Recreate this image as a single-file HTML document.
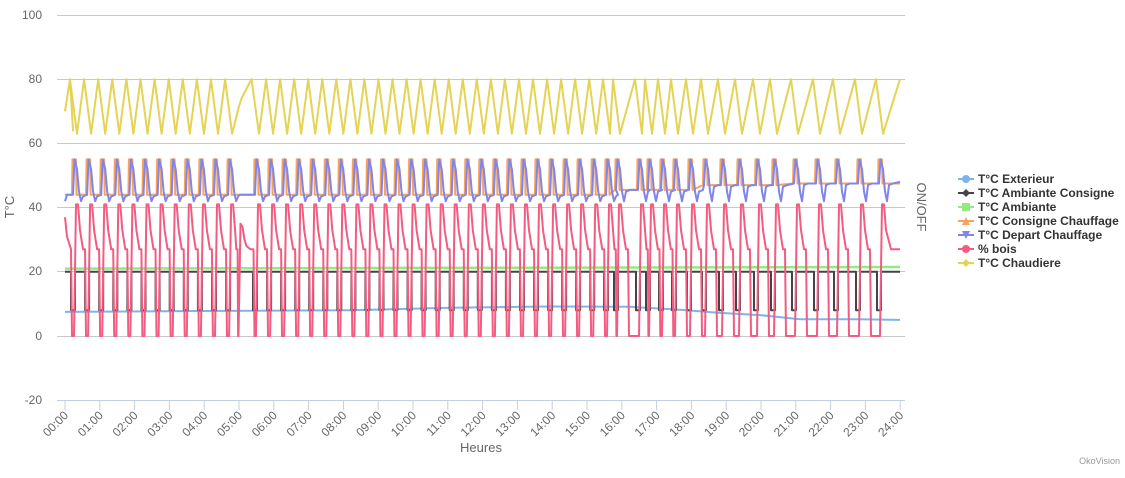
<!DOCTYPE html>
<html><head><meta charset="utf-8"><style>
body{margin:0;background:#fff;width:1125px;height:473px;overflow:hidden;font-family:"Liberation Sans",sans-serif}
</style></head><body>
<svg id="s" width="1125" height="473" xmlns="http://www.w3.org/2000/svg" font-family="Liberation Sans, sans-serif">
<g stroke="#c8c8c8" stroke-width="1">
<line x1="57" x2="905" y1="15.5" y2="15.5"/><line x1="57" x2="905" y1="79.5" y2="79.5"/>
<line x1="57" x2="905" y1="143.5" y2="143.5"/><line x1="57" x2="905" y1="207.5" y2="207.5"/>
<line x1="57" x2="905" y1="271.5" y2="271.5"/><line x1="57" x2="905" y1="336.5" y2="336.5"/>
</g>
<line x1="57" x2="905" y1="400.5" y2="400.5" stroke="#c0d0e0"/>
<g fill="#666" font-size="12" text-anchor="end">
<text x="42" y="19">100</text><text x="42" y="83">80</text><text x="42" y="147">60</text>
<text x="42" y="211">40</text><text x="42" y="275">20</text><text x="42" y="340">0</text><text x="42" y="404">-20</text>
</g>
<text transform="translate(14,207) rotate(-90)" fill="#666" font-size="13" text-anchor="middle">T°C</text>
<text transform="translate(917,207) rotate(90)" fill="#666" font-size="13" text-anchor="middle">ON/OFF</text>
<text x="481" y="452" fill="#666" font-size="13" text-anchor="middle">Heures</text>
<text x="1120" y="464" fill="#999" font-size="9" text-anchor="end">OkoVision</text>
<g id="ticks"></g>
<g id="series" fill="none" stroke-width="2" stroke-linejoin="round"></g>
<g font-size="12" font-weight="bold" fill="#333">
<g transform="translate(958,179)"><line x1="0" x2="16" stroke="#7cb5ec" stroke-width="2"/><circle cx="8" r="4" fill="#7cb5ec"/><text x="20" y="4">T°C Exterieur</text></g>
<g transform="translate(958,193)"><line x1="0" x2="16" stroke="#434348" stroke-width="2"/><path d="M8 -4L12 0L8 4L4 0Z" fill="#434348"/><text x="20" y="4">T°C Ambiante Consigne</text></g>
<g transform="translate(958,207)"><line x1="0" x2="16" stroke="#90ed7d" stroke-width="2"/><rect x="4" y="-4" width="8" height="8" fill="#90ed7d"/><text x="20" y="4">T°C Ambiante</text></g>
<g transform="translate(958,221)"><line x1="0" x2="16" stroke="#f7a35c" stroke-width="2"/><path d="M8 -4L12 4L4 4Z" fill="#f7a35c"/><text x="20" y="4">T°C Consigne Chauffage</text></g>
<g transform="translate(958,235)"><line x1="0" x2="16" stroke="#8085e9" stroke-width="2"/><path d="M4 -4L12 -4L8 4Z" fill="#8085e9"/><text x="20" y="4">T°C Depart Chauffage</text></g>
<g transform="translate(958,249)"><line x1="0" x2="16" stroke="#f15c80" stroke-width="2"/><circle cx="8" r="4" fill="#f15c80"/><text x="20" y="4">% bois</text></g>
<g transform="translate(958,263)"><line x1="0" x2="16" stroke="#e4d354" stroke-width="2"/><path d="M8 -4L12 0L8 4L4 0Z" fill="#e4d354"/><text x="20" y="4">T°C Chaudiere</text></g>
</g>
</svg>
<script>
function Y(v){return 336-v*3.21;}
var tk=document.getElementById("ticks"),h="";
for(var i=0;i<=24;i++){var x=65+i*34.8;
h+='<line x1="'+x+'" x2="'+x+'" y1="400" y2="410" stroke="#c0d0e0"/>';
var l=(i<10?"0":"")+i+":00";
h+='<text transform="translate('+(x+4)+',416) rotate(-45)" text-anchor="end" font-size="12" fill="#666">'+l+'</text>';}
tk.innerHTML=h;
var P=[];
for(var x=77;x<=234;x+=14.1)P.push(x);
P.push(241.5);
for(var x=259;x<=600;x+=14.05)P.push(x);
P=P.concat([610,620,642,652,665,678,693,708,725,742,760,777,798,820,840,862,883]);
P.sort(function(a,b){return a-b});
var pink=[[65,37],[67,31],[70,28],[71,27],[72,0]];
var blk=[[65,20]],ora=[[65,44],[69,44]],blu=[[65,42],[67,44]],yel=[[65,70],[70,80],[73,64]];
function base(x){return x<620?44:(x<700?45.5:(x<780?47:47.5));}
for(var i=0;i<P.length;i++){
 var p=P[i],n=(i+1<P.length?P[i+1]:905),d=n-p;
 var sp=(p>240&&p<243);
 if(sp){
  pink.push([p-3,0],[p-1,35],[p+1,34],[p+3,30],[p+5,28],[p+9,27],[p+12,27],[p+13,0]);
  yel.push([p-3,71],[p,74],[p+10,80]);
  continue;
 }
 var A=41;
 if(n===905){pink.push([p-3,0],[p-1,A],[p+1,A],[p+3,33],[p+8,27],[900,27]);}
 else pink.push([p-3,0],[p-1,A],[p+1,A],[p+3,33],[p+Math.min(6,d*0.45),27],[p+Math.min(8,d*0.58),27],[p+Math.min(9,d*0.64),0]);
 var b=base(p);
 ora.push([p-5,b],[p-4.5,55],[p-1,55],[p-0.5,b]);
 blu.push([p-4,b],[p-2.5,55],[p,52],[p+2,45],[p+4,42],[p+6,b-0.5],[p+Math.min(10,d*0.8),b]);
 blk.push([p-6,20],[p-6,8],[p-2,8],[p-2,20]);
 if(P[i-1]>240&&P[i-1]<243) yel.push([p,63]);
 else yel.push([p-7,80],[p,63]);
}
yel.push([900,80]);ora.push([900,47.5]);blu.push([900,48]);blk.push([900,20]);
var ext=[[65,7.5],[200,7.8],[350,8],[450,8.8],[550,9.2],[630,9.1],[680,8.2],[720,7.2],[760,6.5],[800,5.2],[860,5.2],[900,5]];
var grn=[[65,21],[400,21.2],[900,21.5]];
function path(a,c,w){var d="M"+a.map(function(q){return q[0].toFixed(1)+" "+Y(q[1]).toFixed(1)}).join("L");
return '<path d="'+d+'" stroke="'+c+'" stroke-width="'+(w||2)+'"/>';}
document.getElementById("series").innerHTML=
path(ext,"#7cb5ec")+path(blk,"#434348")+path(grn,"#90ed7d",2.5)+path(yel,"#e4d354")+path(ora,"#f7a35c")+path(blu,"#8085e9")+path(pink,"#f15c80");
</script>
</body></html>
